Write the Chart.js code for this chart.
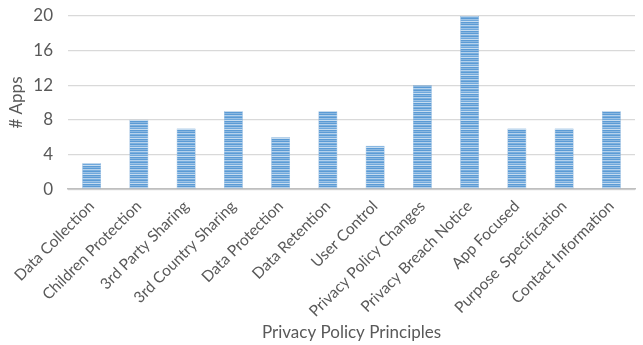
<!DOCTYPE html>
<html lang="en">
<head>
    <meta charset="UTF-8">
    <title>Privacy Policy Principles</title>
    <script src="https://cdn.jsdelivr.net/npm/chart.js"></script>
    <style>
        html, body { margin: 0; padding: 0; background: #fff; }
        .chart-box { width: 643px; height: 345px; }
    </style>
</head>
<body>
    <div class="chart-box"><canvas id="appsChart"></canvas></div>

    <script>
        // values
        const principles = ['Data Collection', 'Children Protection', '3rd Party Sharing', '3rd Country Sharing',
            'Data Protection', 'Data Retention', 'User Control', 'Privacy Policy Changes',
            'Privacy Breach Notice', 'App Focused', 'Purpose  Specification', 'Contact Information'];
        const appCounts = [3, 8, 7, 9, 6, 9, 5, 12, 20, 7, 7, 9];
        const yTicks = [0, 4, 8, 12, 16, 20];

        // horizontal stripe fill, like the Excel texture
        function stripePattern() {
            const c = document.createElement('canvas');
            c.width = 4; c.height = 9;
            const g = c.getContext('2d');
            const rows = ['#5b9bd5', '#9dc3e6', '#6fa8dc', '#c5dcf0', '#5b9bd5', '#8ab7e0', '#5b9bd5', '#b4d1ec', '#7aafde'];
            rows.forEach((col, i) => { g.fillStyle = col; g.fillRect(0, i, 4, 1); });
            return g.createPattern(c, 'repeat');
        }

        const ctx = document.getElementById('appsChart').getContext('2d');
        new Chart(ctx, {
            type: 'bar',
            data: {
                labels: principles,
                datasets: [{
                    data: appCounts,
                    backgroundColor: stripePattern(),
                    borderColor: '#6a9fd2',
                    borderWidth: 0.5,
                    barPercentage: 0.4,
                    categoryPercentage: 1
                }]
            },
            options: {
                responsive: true,
                maintainAspectRatio: false,
                animation: false,
                layout: { padding: { left: 6, right: 8, top: 16, bottom: 2 } },
                plugins: { legend: { display: false }, tooltip: { enabled: false } },
                scales: {
                    x: {
                        afterFit: scale => { scale.paddingLeft = 0; scale.paddingRight = 0; },
                        grid: { display: false },
                        border: { color: '#bfbfbf', width: 1.5 },
                        ticks: {
                            minRotation: 45, maxRotation: 45,
                            color: '#595959',
                            font: { family: 'Lato', size: 15.5 },
                            padding: 0
                        },
                        title: {
                            display: true,
                            text: 'Privacy Policy Principles',
                            color: '#595959',
                            font: { family: 'Lato', size: 17 },
                            padding: { top: 2, bottom: 0 }
                        }
                    },
                    y: {
                        min: 0, max: 20,
                        afterBuildTicks: axis => { axis.ticks = yTicks.map(v => ({ value: v })); },
                        afterFit: scale => { scale.width = 62; scale.paddingTop = 0; scale.paddingBottom = 0; },
                        grid: { color: '#d9d9d9', lineWidth: 1.2, drawTicks: false },
                        border: { display: false },
                        ticks: {
                            color: '#595959',
                            font: { family: 'Lato', size: 17 },
                            padding: 15
                        },
                        title: {
                            display: true,
                            text: '# Apps',
                            color: '#595959',
                            font: { family: 'Lato', size: 17 },
                            padding: { top: 0, bottom: 4 }
                        }
                    }
                }
            }
        });
    </script>
</body>
</html>
